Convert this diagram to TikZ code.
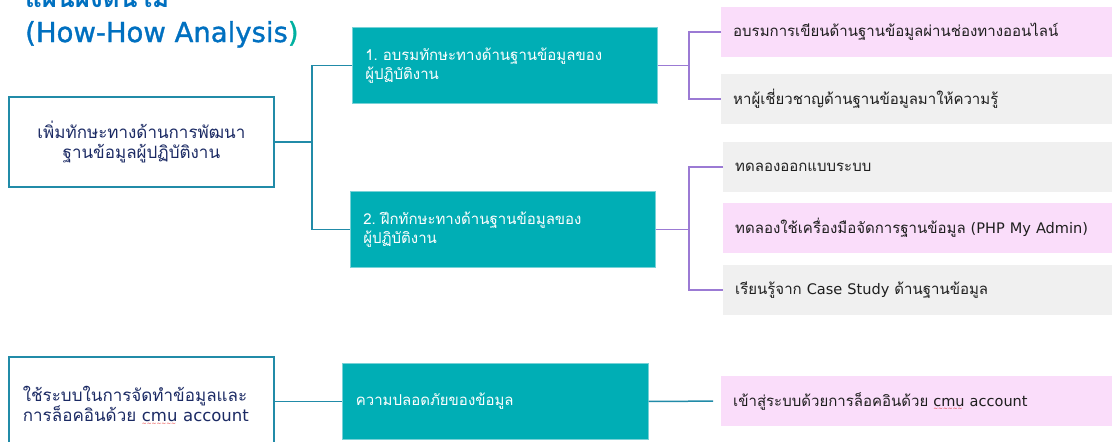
\documentclass[tikz,border=0pt]{standalone}
\usepackage{fontspec}
\setmainfont[Script=Thai]{Loma}
\newfontfamily\latinfont[Scale=0.97]{DejaVu Sans}
\newfontfamily\headfont[FakeBold=1.2]{DejaVu Sans}
\newcommand\latn[1]{{\latinfont #1}}
\frenchspacing
\definecolor{titleblue}{RGB}{0,112,192}
\definecolor{parteal}{RGB}{0,176,160}
\definecolor{tealfill}{RGB}{0,174,181}
\definecolor{tealedge}{RGB}{120,210,215}
\definecolor{rootedge}{RGB}{33,139,168}
\definecolor{navy}{RGB}{27,42,100}
\definecolor{violet}{RGB}{155,122,212}
\definecolor{pinkfill}{RGB}{250,221,250}
\definecolor{greyfill}{RGB}{240,240,240}
\definecolor{leaftext}{RGB}{30,30,30}
\definecolor{squigred}{RGB}{230,40,40}
% red wavy underline (spell-check style), built from a row of small tildes
\newsavebox\squigbox
\newcommand\redsquig[1]{\sbox\squigbox{#1}%
  \rlap{\usebox\squigbox}%
  \rlap{\raisebox{-4.2pt}{\textcolor{squigred}{\fontsize{6}{6}\selectfont
    \leaders\hbox{\char`\~}\hskip\wd\squigbox\relax}}}%
  \hskip\wd\squigbox\relax}
\tikzset{
  rootbox/.style={draw=rootedge, line width=1.8, fill=white, text=navy,
    minimum width=265, minimum height=90, anchor=north west,
    font=\fontsize{17}{20.5}\selectfont},
  tealbox/.style={fill=tealfill, draw=tealedge, line width=0.6, text=white,
    minimum width=305, minimum height=76, inner xsep=13, text width=279,
    align=left, anchor=north west, font=\fontsize{15}{19}\selectfont},
  leafbox/.style={minimum width=395, minimum height=50, inner xsep=12,
    text width=371, align=left, anchor=north west, text=leaftext,
    font=\fontsize{15}{19}\selectfont},
  pinkleaf/.style={leafbox, fill=pinkfill},
  greyleaf/.style={leafbox, fill=greyfill},
  tealline/.style={draw=rootedge, line width=1.5},
  violetline/.style={draw=violet, line width=1.5},
  titletext/.style={anchor=base west, text=titleblue, inner sep=0},
}
\begin{document}
\begin{tikzpicture}[x=1pt, y=-1pt]
\useasboundingbox (0,0) rectangle (1112,442);
\clip (0,0) rectangle (1112,442);

% title
\node[titletext, font=\bfseries\fontsize{26}{30}\selectfont] (title1) at (25,7) {แผนผังต้นไม้};
\node[titletext, font=\headfont\fontsize{27.5}{30}\selectfont] (title2) at (25,42)
  {(How-How Analysis\textcolor{parteal}{)}};

% first tree
\node[rootbox, align=center] (r1) at (8,96)
  {เพิ่มทักษะทางด้านการพัฒนา\\ฐานข้อมูลผู้ปฏิบัติงาน};
\node[tealbox] (b1) at (352,27) {1. อบรมทักษะทางด้านฐานข้อมูลของ\\ผู้ปฏิบัติงาน};
\node[tealbox] (b2) at (350,191) {2. ฝึกทักษะทางด้านฐานข้อมูลของ\\ผู้ปฏิบัติงาน};
\node[pinkleaf] (c1) at (721,7) {อบรมการเขียนด้านฐานข้อมูลผ่านช่องทางออนไลน์};
\node[greyleaf] (c2) at (721,74) {หาผู้เชี่ยวชาญด้านฐานข้อมูลมาให้ความรู้};
\node[greyleaf] (c3) at (723,142) {ทดลองออกแบบระบบ};
\node[pinkleaf] (c4) at (723,203) {ทดลองใช้เครื่องมือจัดการฐานข้อมูล \latn{(PHP My Admin)}};
\node[greyleaf] (c5) at (723,265) {เรียนรู้จาก \latn{Case Study} ด้านฐานข้อมูล};

% second tree
\node[rootbox, align=left, inner xsep=14, text width=237, minimum height=98] (r2) at (8,356)
  {ใช้ระบบในการจัดทำข้อมูลและ\\การล็อคอินด้วย \latn{\redsquig{cmu} account}};
\node[tealbox, minimum width=306] (b3) at (342,363) {ความปลอดภัยของข้อมูล};
\node[pinkleaf] (c6) at (721,376) {เข้าสู่ระบบด้วยการล็อคอินด้วย \latn{\redsquig{cmu} account}};

% junction columns
\coordinate (ja) at (312,0);
\coordinate (jb) at (689,0);

% connectors
\draw[tealline] (r1.east) -- (r1.east -| ja);
\draw[tealline] (b1.west) -- (b1.west -| ja) -- (b2.west -| ja) -- (b2.west);
\draw[violetline] (b1.east) -- (b1.east -| jb);
\draw[violetline] (c1.west) -- (c1.west -| jb) -- (c2.west -| jb) -- (c2.west);
\draw[violetline] (b2.east) -- (b2.east -| jb);
\draw[violetline] (c3.west) -- (c3.west -| jb) -- (c5.west -| jb) -- (c5.west);
\draw[tealline] (r2.east |- b3.west) -- (b3.west);
\draw[tealline, shorten >=8] (b3.east) -- (c6.west);
\end{tikzpicture}
\end{document}
